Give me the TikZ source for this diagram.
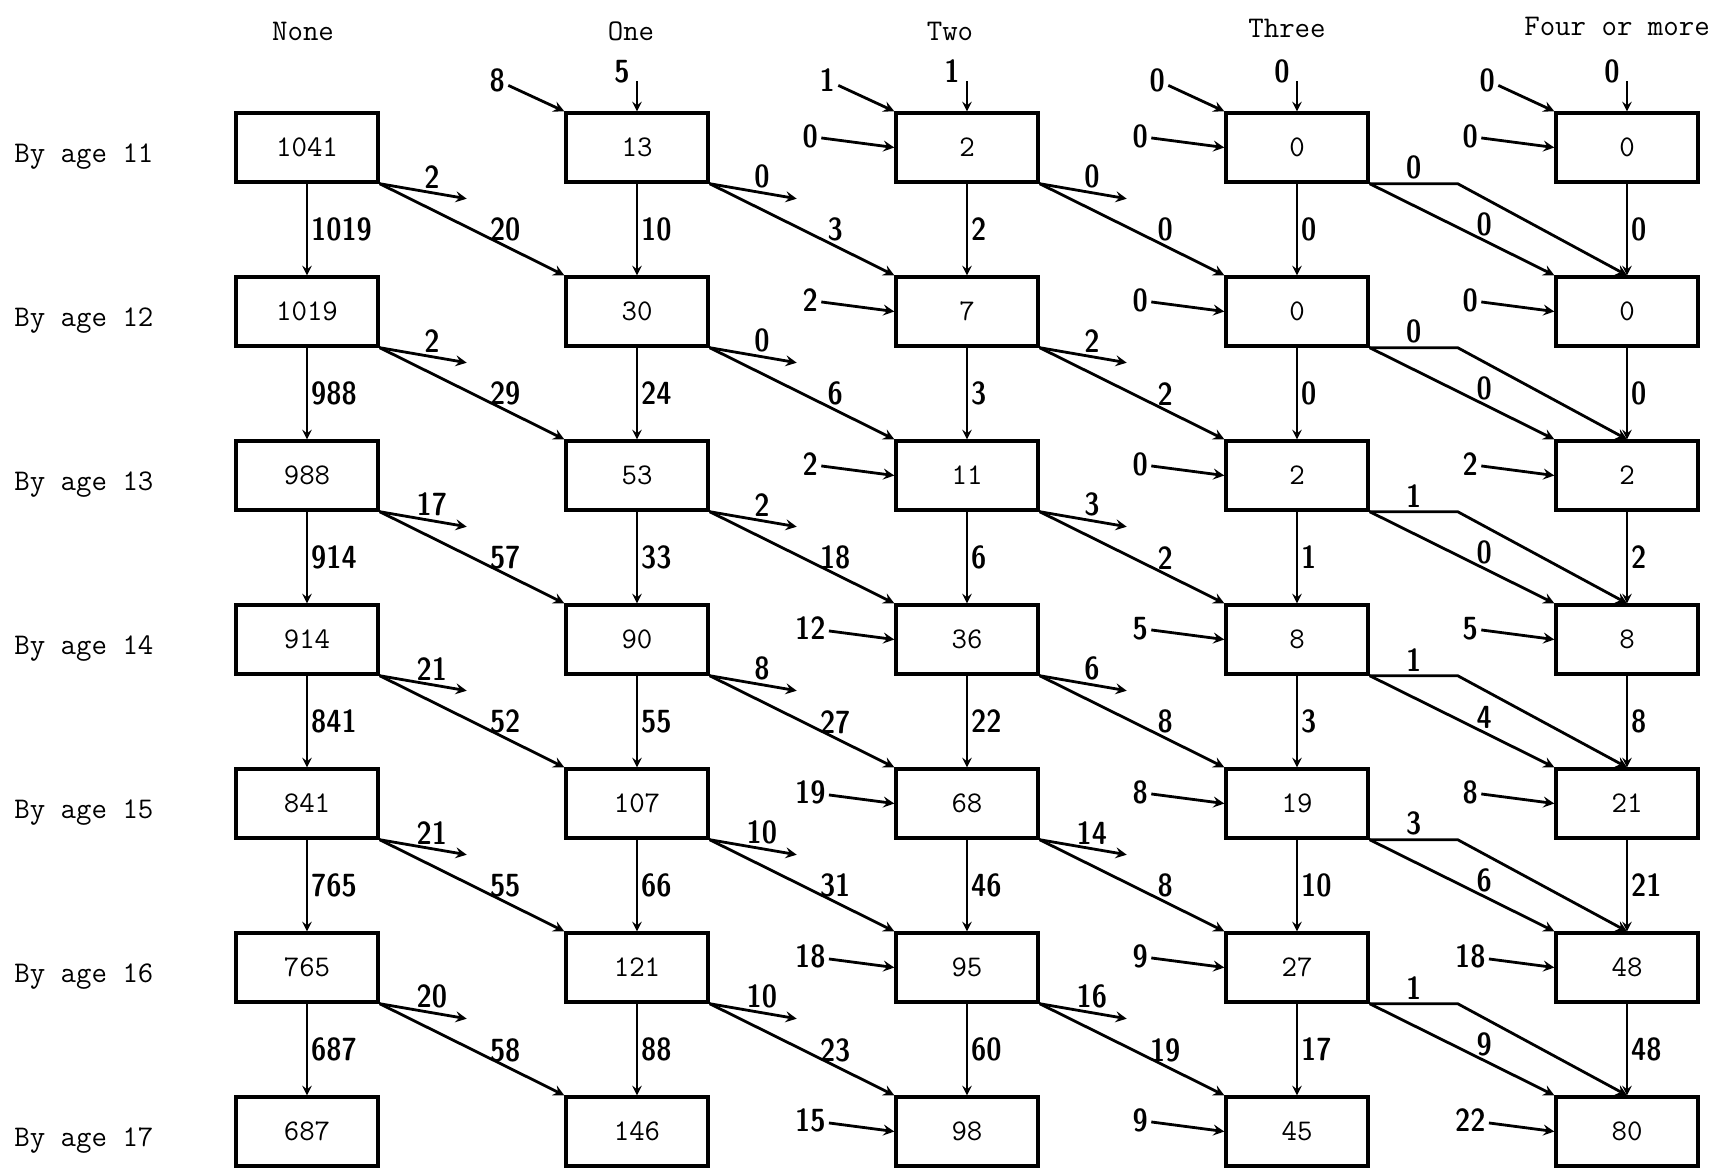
\documentclass[tikz,border=0pt]{standalone}

\newcommand\handnum{\fontfamily{lmss}\fontseries{sbc}\fontsize{16}{17}\selectfont}
\newcommand\typed{\fontsize{15}{16}\selectfont\ttfamily}

\tikzset{
  cell/.style={draw,line width=1.7pt,minimum width=71pt,minimum height=34.5pt,inner sep=0pt,font=\typed},
  head/.style={font=\typed},
  rowlab/.style={font=\typed,anchor=west,inner sep=0pt},
  num/.style={font=\handnum,inner sep=1.5pt},
  flow/.style={->,line width=1.4pt},
  vflow/.style={->,line width=1.1pt}
}

\begin{document}
\begin{tikzpicture}[x=0.5pt,y=-0.5pt,>=stealth]
  \useasboundingbox (0,0) rectangle (1719,1169);
  % column heads and row labels
  \node[head] (h-0) at (303,31) {None};
  \node[head] (h-1) at (631,31) {One};
  \node[head] (h-2) at (950,31) {Two};
  \node[head] (h-3) at (1287,28) {Three};
  \node[head] (h-4) at (1617,26) {Four or more};
  \foreach \r/\age in {0/11,1/12,2/13,3/14,4/15,5/16,6/17}
    \node[rowlab] (a-\r) at (14,157+164*\r) {By age \age};
  % boxes
  \foreach \r/\va/\vb/\vc/\vd/\ve in {0/1041/13/2/0/0,1/1019/30/7/0/0,2/988/53/11/2/2,
      3/914/90/36/8/8,4/841/107/68/19/21,5/765/121/95/27/48,6/687/146/98/45/80}{
    \foreach \c/\v in {0/\va,1/\vb,2/\vc,3/\vd,4/\ve}
      \node[cell] (b-\r-\c) at (307+330*\c,147.5+164*\r) {\v};
  }
  % straight down
  \foreach \r/\s/\va/\vb/\vc/\vd/\ve in {0/1/1019/10/2/0/0,1/2/988/24/3/0/0,2/3/914/33/6/1/2,
      3/4/841/55/22/3/8,4/5/765/66/46/10/21,5/6/687/88/60/17/48}{
    \foreach \c/\v in {0/\va,1/\vb,2/\vc,3/\vd,4/\ve}
      \draw[vflow] (b-\r-\c.south) -- node[num,right]{\v} (b-\s-\c.north);
  }
  % leaving
  \foreach \r/\xa/\xb/\xc in {0/2/0/0,1/2/0/2,2/17/2/3,3/21/8/6,4/21/10/14,5/20/10/16}{
    \foreach \c/\v in {0/\xa,1/\xb,2/\xc}{
      \coordinate (x-\r-\c) at ([shift={(87,15)}]b-\r-\c.south east);
      \draw[flow] (b-\r-\c.south east) -- node[num,pos=.6,above]{\v} (x-\r-\c);
    }
  }
  % one step up, and two steps up from Three
  \foreach \r/\s/\da/\db/\dc/\dd/\k in {0/1/20/3/0/0/0,1/2/29/6/2/0/0,2/3/57/18/2/0/1,
      3/4/52/27/8/4/1,4/5/55/31/8/6/3,5/6/58/23/19/9/1}{
    \foreach \c/\t/\v in {0/1/\da,1/2/\db,2/3/\dc}
      \draw[flow] (b-\r-\c.south east) -- node[num,pos=.68,above]{\v} (b-\s-\t.north west);
    \draw[flow] (b-\r-3.south east) -- node[num,pos=.62,above]{\dd} (b-\s-4.north west);
    \coordinate (k-\r) at ([shift={(88,0)}]b-\r-3.south east);
    \draw[flow] (b-\r-3.south east) -- node[num,above]{\k} (k-\r) -- (b-\s-4.north);
  }
  % coming in from the side
  \foreach \r/\ea/\eb/\ec in {0/0/0/0,1/2/0/0,2/2/0/2,3/12/5/5,4/19/8/8,5/18/9/18,6/15/9/22}{
    \foreach \c/\v in {2/\ea,3/\eb,4/\ec}{
      \node[num] (e-\r-\c) at ([shift={(-84,-11)}]b-\r-\c.west) {\v};
      \draw[flow] (e-\r-\c) -- (b-\r-\c.west);
    }
  }
  % coming in at age 11
  \foreach \c/\dv/\tv in {1/8/5,2/1/1,3/0/0,4/0/0}{
    \node[num] (d-\c) at ([shift={(-67,-31)}]b-0-\c.north west) {\dv};
    \draw[flow] (d-\c) -- (b-0-\c.north west);
    \coordinate (t-\c) at ([shift={(0,-30)}]b-0-\c.north);
    \node[num] (u-\c) at ([shift={(-15,-40)}]b-0-\c.north) {\tv};
    \draw[vflow] (t-\c) -- (b-0-\c.north);
  }
\end{tikzpicture}
\end{document}
